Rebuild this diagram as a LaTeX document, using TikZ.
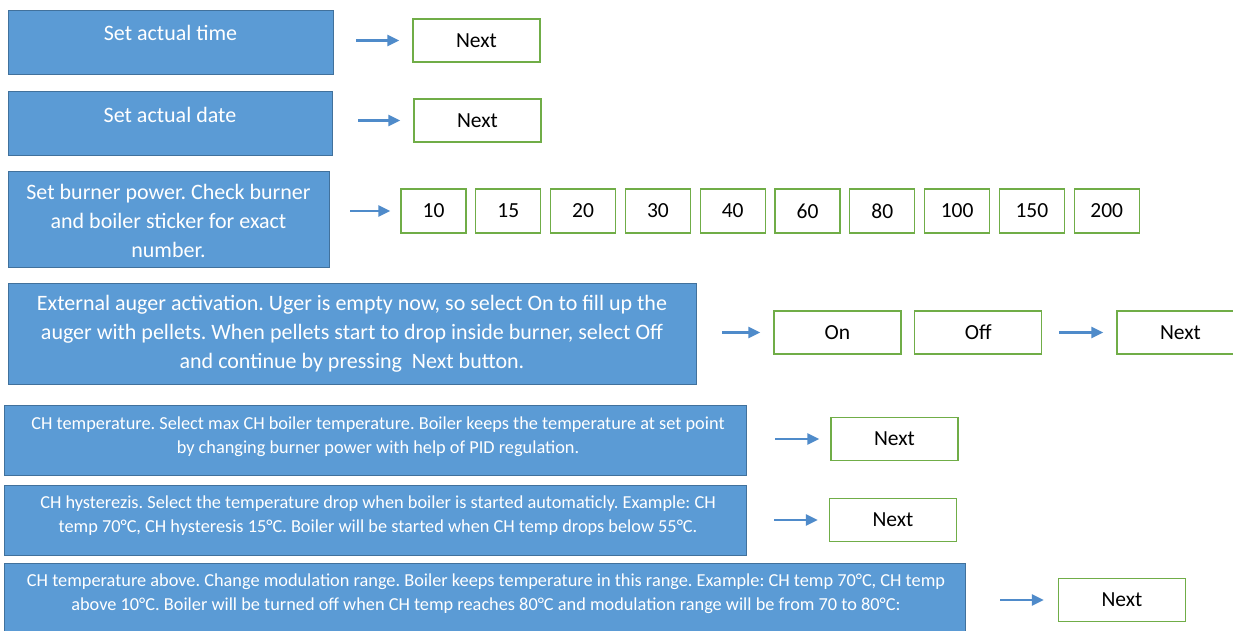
\documentclass[tikz,border=0pt]{standalone}
\usepackage{fontspec}
\setmainfont{Carlito}
\frenchspacing
\usetikzlibrary{positioning,arrows.meta,calc}
\definecolor{stepblue}{HTML}{5B9BD5}
\definecolor{stepedge}{HTML}{41719C}
\definecolor{btngreen}{HTML}{70AD47}
\definecolor{arrowblue}{HTML}{4F8BCA}

\begin{document}
\begin{tikzpicture}[x=1pt, y=-1pt,
			stepbox/.style={draw=stepedge, fill=stepblue, line width=1.4pt, anchor=north west, inner sep=0pt},
			steptext/.style={text=white, align=center, inner sep=0pt, font=\fontsize{22}{29}\selectfont},
			smalltext/.style={text=white, align=center, inner sep=0pt, font=\fontsize{18.3}{24}\selectfont},
			btn/.style={draw=btngreen, fill=white, line width=1.3pt, minimum width=127pt, minimum height=43pt, inner sep=0pt, font=\fontsize{21.5}{25}\selectfont},
			numbtn/.style={btn, minimum width=65pt, minimum height=44pt},
			arr/.style={arrowblue, line width=2.2pt, -{Triangle[length=12pt,width=11pt]}}]
			\useasboundingbox (0,0) rectangle (1233,631);
			% step boxes
			\node[stepbox, minimum width=325pt, minimum height=64pt] (time) at (8,10) {};
			\node[stepbox, minimum width=324pt, minimum height=64pt] (date) at (8,91) {};
			\node[stepbox, minimum width=321pt, minimum height=96pt] (power) at (8,171) {};
			\node[stepbox, minimum width=688pt, minimum height=101pt] (auger) at (8,283) {};
			\node[stepbox, minimum width=742pt, minimum height=70pt] (chtemp) at (4,405) {};
			\node[stepbox, minimum width=742pt, minimum height=70pt] (chhyst) at (4,485) {};
			\node[stepbox, minimum width=961pt, minimum height=80pt] (chabove) at (4,563) {};
			% texts
			\node[steptext] (timetxt) at (170.5,33) {Set actual time};
			\node[steptext] (datetxt) at (170,115) {Set actual date};
			\node[steptext] (powertxt) at (168.5,221) {Set burner power. Check burner\\and boiler sticker for exact\\number.};
			\node[steptext] (augertxt) at (352,334) {External auger activation. Uger is empty now, so select On to fill up the\\auger with pellets. When pellets start to drop inside burner, select Off\\and continue by pressing\ \ Next button.};
			\node[smalltext] (chtemptxt) at (378,437) {CH temperature. Select max CH boiler temperature. Boiler keeps the temperature at set point\\by changing burner power with help of PID regulation.};
			\node[smalltext] (chhysttxt) at (378,515.5) {CH hysterezis. Select the temperature drop when boiler is started automaticly. Example: CH\\temp 70°C, CH hysteresis 15°C. Boiler will be started when CH temp drops below 55°C.};
			\node[smalltext] (chabovetxt) at (486,594) {CH temperature above. Change modulation range. Boiler keeps temperature in this range. Example: CH temp 70°C, CH temp\\above 10°C. Boiler will be turned off when CH temp reaches 80°C and modulation range will be from 70 to 80°C:};
			% buttons
			\node[btn] (next1) at (476.5,40.5) {Next};
			\node[btn] (next2) at (477.5,120.5) {Next};
			\node[numbtn] (p10) at (433.5,211) {10};
			\node[numbtn, right=8.5pt of p10] (p15) {15};
			\node[numbtn, right=8.5pt of p15] (p20) {20};
			\node[numbtn, right=8.5pt of p20] (p30) {30};
			\node[numbtn, right=8.5pt of p30] (p40) {40};
			\node[numbtn, right=8.5pt of p40] (p60) {60};
			\node[numbtn, right=8.5pt of p60] (p80) {80};
			\node[numbtn, right=8.5pt of p80] (p100) {100};
			\node[numbtn, right=8.5pt of p100] (p150) {150};
			\node[numbtn, right=8.5pt of p150] (p200) {200};
			\node[btn] (on) at (837.5,332.5) {On};
			\node[btn, right=12.5pt of on] (off) {Off};
			\node[btn] (next4) at (1180.5,332.5) {Next};
			\node[btn] (next5) at (894.5,439) {Next};
			\node[btn] (next6) at (893,520) {Next};
			\node[btn] (next7) at (1122,600) {Next};
			% arrows
			\draw[arr] ($(time.east |- next1.west)+(22,0)$) -- ($(next1.west)+(-13,0)$);
			\draw[arr] ($(date.east |- next2.west)+(25,0)$) -- ($(next2.west)+(-13,0)$);
			\draw[arr] ($(power.east |- p10.west)+(20,0)$) -- ($(p10.west)+(-10,0)$);
			\draw[arr] ($(auger.east |- on.west)+(25,0)$) -- ($(on.west)+(-13,0)$);
			\draw[arr] ($(off.east)+(17,0)$) -- ($(next4.west)+(-13,0)$);
			\draw[arr] ($(chtemp.east |- next5.west)+(28,0)$) -- ($(next5.west)+(-11,0)$);
			\draw[arr] ($(chhyst.east |- next6.west)+(27,0)$) -- ($(next6.west)+(-11,0)$);
			\draw[arr] ($(chabove.east |- next7.west)+(34,0)$) -- ($(next7.west)+(-14,0)$);
		\end{tikzpicture}
\end{document}
